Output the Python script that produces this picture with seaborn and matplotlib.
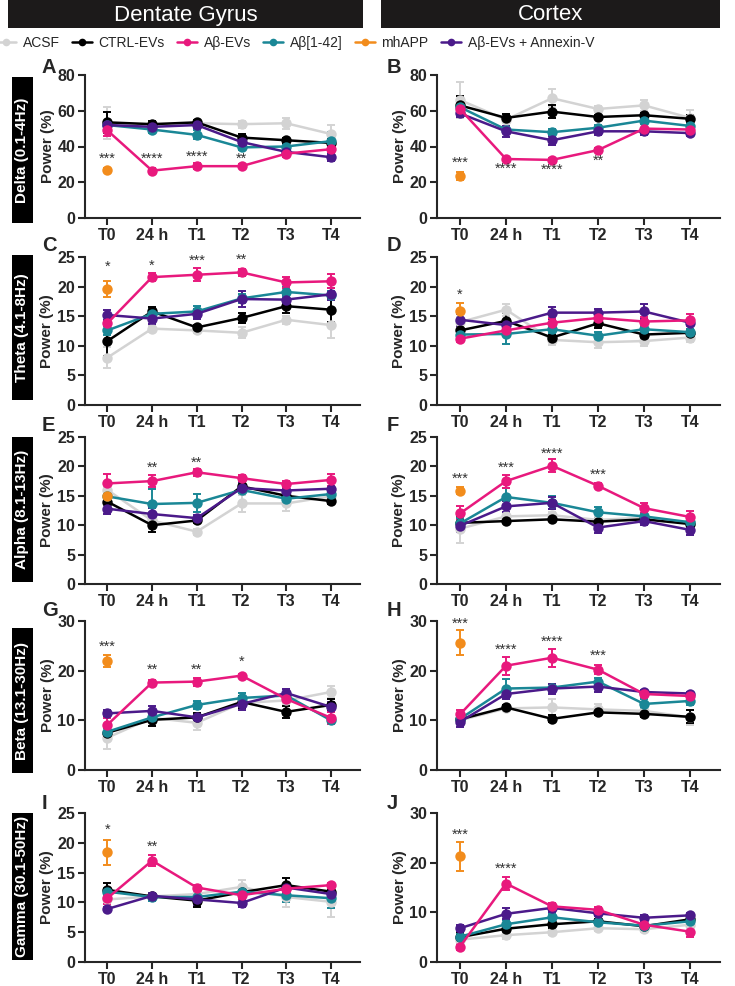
import numpy as np
import pandas as pd
import matplotlib
matplotlib.use("Agg")
import matplotlib.pyplot as plt
import seaborn as sns
from matplotlib.patches import Rectangle
from matplotlib.lines import Line2D

# ---- data (mean and SEM, % power) ----
TIMES = ["T0", "24 h", "T1", "T2", "T3", "T4"]
GROUPS = ["ACSF", "CTRL-EVs", "Aβ-EVs", "Aβ[1-42]", "mhAPP", "Aβ-EVs + Annexin-V"]

delta_dg = {
    "ACSF": [53, 52, 53, 52.5, 53, 47],
    "CTRL-EVs": [53.5, 52.5, 53.5, 45, 43.5, 42],
    "Aβ-EVs": [49, 26.5, 29, 29, 36, 38.5],
    "Aβ[1-42]": [52, 49.5, 46.5, 39.5, 40, 43],
    "mhAPP": [27],
    "Aβ-EVs + Annexin-V": [52, 51, 52, 42.5, 37, 34],
}
delta_dg_sem = {
    "ACSF": [9, 1, 1, 2, 3, 5],
    "CTRL-EVs": [6, 2, 1.5, 2, 1.5, 2],
    "Aβ-EVs": [3, 1.5, 1.5, 1, 2, 1.5],
    "Aβ[1-42]": [2, 2, 2.5, 1.5, 1, 5],
    "mhAPP": [1],
    "Aβ-EVs + Annexin-V": [2, 2, 1.5, 1.5, 1.5, 2],
}
delta_dg_stars = [("***", 0, 33), ("****", 1, 33), ("****", 2, 34), ("**", 3, 33)]

delta_cx = {
    "ACSF": [66, 55, 67, 61, 63, 56],
    "CTRL-EVs": [63, 56, 59.5, 56.5, 57.5, 55.5],
    "Aβ-EVs": [61, 33, 32.5, 38, 50, 49.5],
    "Aβ[1-42]": [62, 49.5, 48, 50.5, 54.5, 51.5],
    "mhAPP": [23.5],
    "Aβ-EVs + Annexin-V": [58.5, 48.5, 43.5, 48.5, 48.5, 47.5],
}
delta_cx_sem = {
    "ACSF": [10, 1, 5, 1.5, 3, 4.5],
    "CTRL-EVs": [5, 2, 3.5, 1, 1.5, 2],
    "Aβ-EVs": [3, 1, 1, 1, 2.5, 2],
    "Aβ[1-42]": [2, 1.5, 2, 1.5, 1.5, 1.5],
    "mhAPP": [2.5],
    "Aβ-EVs + Annexin-V": [2, 3, 2.5, 2, 2, 1.5],
}
delta_cx_stars = [("***", 0, 31), ("****", 1, 27.5), ("****", 2, 27), ("**", 3, 32)]

theta_dg = {
    "ACSF": [8.0, 12.9, 12.6, 12.2, 14.4, 13.5],
    "CTRL-EVs": [10.8, 15.8, 13.1, 14.7, 16.7, 16.1],
    "Aβ-EVs": [13.8, 21.6, 22.0, 22.4, 20.7, 20.9],
    "Aβ[1-42]": [12.6, 15.4, 15.8, 18.0, 19.1, 18.5],
    "mhAPP": [19.6],
    "Aβ-EVs + Annexin-V": [15.2, 14.6, 15.4, 17.9, 17.8, 18.7],
}
theta_dg_sem = {
    "ACSF": [1.8, 0.5, 0.4, 0.9, 0.7, 2.2],
    "CTRL-EVs": [2.5, 0.8, 0.4, 0.8, 1.1, 2.0],
    "Aβ-EVs": [1.0, 0.7, 1.1, 0.6, 1.0, 1.2],
    "Aβ[1-42]": [0.8, 0.9, 0.9, 0.8, 0.8, 0.8],
    "mhAPP": [1.3],
    "Aβ-EVs + Annexin-V": [0.9, 0.9, 0.9, 1.3, 0.8, 1.0],
}
theta_dg_stars = [("*", 0, 23.3), ("*", 1, 23.5), ("***", 2, 24.4), ("**", 3, 24.6)]

theta_cx = {
    "ACSF": [14.0, 16.1, 11.0, 10.6, 10.8, 11.4],
    "CTRL-EVs": [12.6, 14.2, 11.4, 13.8, 11.9, 12.2],
    "Aβ-EVs": [11.2, 12.6, 13.9, 14.7, 14.1, 14.3],
    "Aβ[1-42]": [11.9, 12.0, 12.8, 11.7, 12.8, 12.3],
    "mhAPP": [15.9],
    "Aβ-EVs + Annexin-V": [14.4, 13.5, 15.6, 15.6, 15.8, 13.9],
}
theta_cx_sem = {
    "ACSF": [0.8, 1.0, 0.8, 1.0, 0.8, 0.8],
    "CTRL-EVs": [1.0, 1.4, 0.6, 0.8, 0.5, 0.6],
    "Aβ-EVs": [0.6, 0.6, 0.8, 0.6, 0.8, 1.0],
    "Aβ[1-42]": [0.6, 1.7, 0.6, 0.6, 0.6, 0.5],
    "mhAPP": [1.3],
    "Aβ-EVs + Annexin-V": [1.0, 0.6, 1.0, 0.6, 1.2, 0.6],
}
theta_cx_stars = [("*", 0, 18.7)]

alpha_dg = {
    "ACSF": [16.0, 10.8, 8.9, 13.7, 13.7, 14.9],
    "CTRL-EVs": [14.0, 10.0, 10.8, 16.6, 15.0, 14.1],
    "Aβ-EVs": [17.1, 17.5, 19.0, 18.0, 17.0, 17.7],
    "Aβ[1-42]": [14.9, 13.6, 13.8, 16.0, 14.5, 15.3],
    "mhAPP": [15.0],
    "Aβ-EVs + Annexin-V": [12.8, 11.9, 11.2, 16.3, 15.9, 16.2],
}
alpha_dg_sem = {
    "ACSF": [0.5, 1.5, 0.5, 1.4, 1.2, 0.5],
    "CTRL-EVs": [1.5, 1.2, 0.5, 1.0, 0.8, 0.5],
    "Aβ-EVs": [1.6, 1.0, 0.6, 0.5, 0.6, 1.0],
    "Aβ[1-42]": [1.0, 2.5, 1.5, 0.6, 0.8, 0.5],
    "mhAPP": [1.0],
    "Aβ-EVs + Annexin-V": [0.9, 1.0, 0.5, 0.8, 0.5, 0.5],
}
alpha_dg_stars = [("**", 1, 19.7), ("**", 2, 20.7)]

alpha_cx = {
    "ACSF": [9.4, 11.5, 11.7, 10.9, 11.3, 10.5],
    "CTRL-EVs": [10.4, 10.7, 11.0, 10.6, 11.0, 10.2],
    "Aβ-EVs": [12.0, 17.5, 20.1, 16.7, 12.9, 11.4],
    "Aβ[1-42]": [10.3, 14.8, 13.8, 12.2, 11.5, 10.5],
    "mhAPP": [15.9],
    "Aβ-EVs + Annexin-V": [9.9, 13.2, 13.8, 9.6, 10.7, 9.2],
}
alpha_cx_sem = {
    "ACSF": [2.5, 0.6, 0.6, 0.5, 0.5, 0.6],
    "CTRL-EVs": [1.0, 0.4, 0.3, 0.5, 0.5, 0.5],
    "Aβ-EVs": [1.2, 1.1, 1.1, 0.4, 0.8, 1.1],
    "Aβ[1-42]": [1.0, 1.5, 1.1, 0.9, 0.5, 0.5],
    "mhAPP": [0.6],
    "Aβ-EVs + Annexin-V": [1.0, 0.9, 1.0, 0.9, 0.6, 0.9],
}
alpha_cx_stars = [("***", 0, 17.9), ("***", 1, 19.8), ("****", 2, 22.2), ("***", 3, 18.6)]

beta_dg = {
    "ACSF": [6.5, 10.5, 9.5, 13.5, 14.0, 15.7],
    "CTRL-EVs": [7.5, 10.1, 10.6, 13.7, 11.7, 13.1],
    "Aβ-EVs": [9.1, 17.6, 17.8, 19.0, 14.3, 10.5],
    "Aβ[1-42]": [7.7, 10.6, 13.1, 14.5, 15.0, 10.0],
    "mhAPP": [22.0],
    "Aβ-EVs + Annexin-V": [11.4, 11.9, 10.6, 13.3, 15.5, 12.7],
}
beta_dg_sem = {
    "ACSF": [2.2, 0.8, 1.5, 0.8, 0.8, 1.3],
    "CTRL-EVs": [1.2, 1.3, 0.8, 1.2, 1.2, 1.2],
    "Aβ-EVs": [1.3, 0.5, 0.8, 0.4, 0.6, 1.2],
    "Aβ[1-42]": [0.8, 0.8, 0.8, 1.0, 0.8, 0.8],
    "mhAPP": [1.2],
    "Aβ-EVs + Annexin-V": [0.6, 1.0, 0.5, 1.2, 0.8, 1.0],
}
beta_dg_stars = [("***", 0, 24.8), ("**", 1, 20.1), ("**", 2, 20.1), ("*", 3, 21.8)]

beta_cx = {
    "ACSF": [10.0, 12.4, 12.6, 12.2, 11.9, 10.6],
    "CTRL-EVs": [10.2, 12.6, 10.3, 11.6, 11.3, 10.7],
    "Aβ-EVs": [11.2, 21.0, 22.6, 20.2, 15.3, 14.9],
    "Aβ[1-42]": [10.3, 16.4, 16.6, 17.8, 13.3, 13.9],
    "mhAPP": [25.6],
    "Aβ-EVs + Annexin-V": [9.7, 15.3, 16.4, 16.8, 15.7, 15.4],
}
beta_cx_sem = {
    "ACSF": [1.0, 0.6, 1.7, 1.0, 0.6, 1.5],
    "CTRL-EVs": [1.0, 0.4, 0.7, 0.5, 0.6, 1.3],
    "Aβ-EVs": [0.8, 1.8, 1.8, 0.9, 0.6, 0.6],
    "Aβ[1-42]": [1.0, 1.9, 0.8, 0.7, 0.9, 0.8],
    "mhAPP": [2.5],
    "Aβ-EVs + Annexin-V": [1.0, 1.0, 1.0, 1.0, 0.4, 0.4],
}
beta_cx_stars = [("***", 0, 29.5), ("****", 1, 24.2), ("****", 2, 25.8), ("***", 3, 23.0)]

gamma_dg = {
    "ACSF": [10.5, 11.0, 11.4, 12.6, 10.9, 10.1],
    "CTRL-EVs": [12.1, 11.0, 10.3, 11.7, 12.9, 11.8],
    "Aβ-EVs": [10.7, 17.0, 12.5, 11.2, 12.3, 12.9],
    "Aβ[1-42]": [11.8, 10.9, 10.9, 11.8, 11.2, 10.7],
    "mhAPP": [18.4],
    "Aβ-EVs + Annexin-V": [8.9, 11.1, 10.5, 9.9, 12.5, 11.4],
}
gamma_dg_sem = {
    "ACSF": [0.6, 0.5, 0.6, 1.1, 1.7, 2.5],
    "CTRL-EVs": [1.2, 0.5, 1.0, 1.0, 1.2, 0.9],
    "Aβ-EVs": [1.0, 0.9, 0.5, 0.6, 0.6, 0.4],
    "Aβ[1-42]": [0.6, 0.6, 0.8, 0.6, 1.1, 1.6],
    "mhAPP": [2.1],
    "Aβ-EVs + Annexin-V": [0.4, 0.5, 1.0, 0.6, 0.6, 0.6],
}
gamma_dg_stars = [("*", 0, 22.2), ("**", 1, 19.4)]

gamma_cx = {
    "ACSF": [4.5, 5.4, 6.0, 6.8, 6.6, 7.5],
    "CTRL-EVs": [5.0, 6.7, 7.6, 8.2, 7.2, 8.6],
    "Aβ-EVs": [3.1, 15.8, 11.2, 10.5, 7.5, 6.1],
    "Aβ[1-42]": [5.1, 7.6, 9.0, 8.0, 7.3, 8.2],
    "mhAPP": [21.3],
    "Aβ-EVs + Annexin-V": [6.8, 9.7, 10.9, 9.8, 8.9, 9.4],
}
gamma_cx_sem = {
    "ACSF": [0.5, 0.7, 0.6, 0.6, 0.6, 0.6],
    "CTRL-EVs": [1.0, 0.9, 0.8, 0.5, 0.5, 0.5],
    "Aβ-EVs": [0.6, 1.3, 0.7, 0.6, 0.5, 1.1],
    "Aβ[1-42]": [0.6, 0.8, 0.7, 0.5, 0.5, 0.6],
    "mhAPP": [2.9],
    "Aβ-EVs + Annexin-V": [0.6, 1.1, 0.9, 0.6, 0.5, 0.5],
}
gamma_cx_stars = [("***", 0, 25.7), ("****", 1, 18.7)]

band_labels = ["Delta (0.1-4Hz)", "Theta (4.1-8Hz)", "Alpha (8.1-13Hz)",
               "Beta (13.1-30Hz)", "Gamma (30.1-50Hz)"]
region_labels = ["Dentate Gyrus", "Cortex"]
panel_letters = ["A", "B", "C", "D", "E", "F", "G", "H", "I", "J"]
yticks_dg = [[0, 20, 40, 60, 80], [0, 5, 10, 15, 20, 25], [0, 5, 10, 15, 20, 25],
             [0, 10, 20, 30], [0, 5, 10, 15, 20, 25]]
yticks_cx = [[0, 20, 40, 60, 80], [0, 5, 10, 15, 20, 25], [0, 5, 10, 15, 20, 25],
             [0, 10, 20, 30], [0, 10, 20, 30]]

palette = {
    "ACSF": "#d3d3d3",
    "CTRL-EVs": "#000000",
    "Aβ-EVs": "#e8197d",
    "Aβ[1-42]": "#1a8796",
    "mhAPP": "#f28c1c",
    "Aβ-EVs + Annexin-V": "#4b1a8a",
}
draw_order = ["ACSF", "CTRL-EVs", "Aβ[1-42]", "Aβ-EVs + Annexin-V", "Aβ-EVs", "mhAPP"]

# ---- style ----
sns.set_style("ticks")
plt.rcParams["font.family"] = ["Liberation Sans", "DejaVu Sans"]

W, H = 735, 986
fig = plt.figure(figsize=(W / 100, H / 100), dpi=100)


def px_rect(x0, y0, x1, y1):
    return [x0 / W, 1 - y1 / H, (x1 - x0) / W, (y1 - y0) / H]


def draw_panel(ax, means, sems, stars, yticks):
    rows = []
    for g in GROUPS:
        for i, v in enumerate(means[g]):
            rows.append({"group": g, "pos": i, "power": v, "sem": sems[g][i]})
    df = pd.DataFrame(rows)
    for g in draw_order:
        d = df[df["group"] == g]
        ax.errorbar(d["pos"], d["power"], yerr=d["sem"], fmt="none",
                    ecolor=palette[g], elinewidth=1.4, capsize=3, capthick=1.4,
                    zorder=2)
        sns.lineplot(data=d, x="pos", y="power", color=palette[g], marker="o",
                     markersize=7.5, markeredgewidth=0, linewidth=1.8,
                     sort=False, errorbar=None, ax=ax, zorder=3)
    for txt, i, y in stars:
        ax.text(i, y, txt, ha="center", va="center", fontsize=10.5,
                color="#333333")
    ax.set_xlim(-0.5, 5.65)
    ax.set_ylim(0, yticks[-1])
    ax.set_yticks(yticks)
    ax.set_xticks(range(len(TIMES)))
    ax.set_xticklabels(TIMES)
    ax.set_xlabel("")
    ax.set_ylabel("Power (%)", fontsize=11, fontweight="bold", labelpad=2)
    for lab in ax.get_xticklabels() + ax.get_yticklabels():
        lab.set_fontweight("bold")
        lab.set_fontsize(11.5)
    ax.tick_params(width=1.5, length=5, pad=2)
    sns.despine(ax=ax)
    for s in ["left", "bottom"]:
        ax.spines[s].set_linewidth(1.5)


row_px = [(75, 218), (257, 405), (437, 584), (621, 770), (813, 962)]
col_px = [(85, 360), (437, 720)]
box_px = [(77, 223), (255, 400), (437, 582), (628, 773), (813, 960)]
letter_base = [73, 251, 431, 616, 809]
letter_x = [42, 387]

dg_panels = [(delta_dg, delta_dg_sem, delta_dg_stars), (theta_dg, theta_dg_sem, theta_dg_stars),
             (alpha_dg, alpha_dg_sem, alpha_dg_stars), (beta_dg, beta_dg_sem, beta_dg_stars),
             (gamma_dg, gamma_dg_sem, gamma_dg_stars)]
cx_panels = [(delta_cx, delta_cx_sem, delta_cx_stars), (theta_cx, theta_cx_sem, theta_cx_stars),
             (alpha_cx, alpha_cx_sem, alpha_cx_stars), (beta_cx, beta_cx_sem, beta_cx_stars),
             (gamma_cx, gamma_cx_sem, gamma_cx_stars)]

for r in range(5):
    top, bot = row_px[r]
    for c, (panels, yt) in enumerate([(dg_panels, yticks_dg), (cx_panels, yticks_cx)]):
        x0, x1 = col_px[c]
        ax = fig.add_axes(px_rect(x0, top, x1, bot))
        m, s, st = panels[r]
        draw_panel(ax, m, s, st, yt[r])
        fig.text(letter_x[c] / W, 1 - letter_base[r] / H, panel_letters[2 * r + c],
                 fontsize=14.5, fontweight="bold", ha="left", va="baseline")
    # black row label box
    b0, b1 = box_px[r]
    fig.add_artist(Rectangle((12 / W, 1 - b1 / H), 21 / W, (b1 - b0) / H,
                             transform=fig.transFigure, color="black", lw=0))
    fig.text(22.5 / W, 1 - (b0 + b1) / 2 / H, band_labels[r], rotation=90,
             color="white", fontsize=11, fontweight="bold", ha="center", va="center")

# column headers
for (x0, x1), name in zip([(8, 363), (381, 720)], region_labels):
    fig.add_artist(Rectangle((x0 / W, 1 - 28 / H), (x1 - x0) / W, 28 / H,
                             transform=fig.transFigure, color="#1c1a1a", lw=0))
    fig.text((x0 + x1) / 2 / W, 1 - 15 / H, name, color="white", fontsize=16,
             ha="center", va="center")

# legend
handles = [Line2D([], [], color=palette[g], marker="o", markersize=5.5,
                  markeredgewidth=0, linewidth=1.8) for g in GROUPS]
fig.legend(handles, GROUPS, loc="center left", bbox_to_anchor=(-0.005, 1 - 43 / H),
           ncol=6, frameon=False, fontsize=10, handlelength=1.4,
           handletextpad=0.5, columnspacing=0.9, borderpad=0, borderaxespad=0)

fig.savefig("out.png", dpi=100)
